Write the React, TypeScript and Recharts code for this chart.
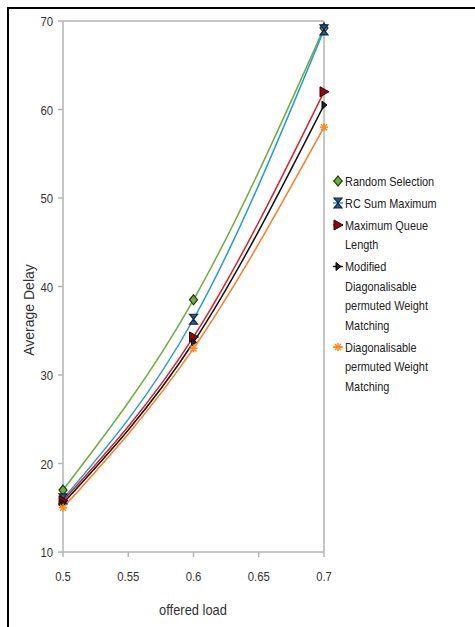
import React from 'react';
import { LineChart, Line, XAxis, YAxis, ReferenceLine } from 'recharts';

const loads = [0.5, 0.6, 0.7];
const randomSelection = [17, 38.5, 69.2];
const rcSumMaximum = [16, 36.3, 69];
const maxQueueLength = [15.8, 34.3, 62];
const modifiedDPWM = [15.5, 33.7, 60.5];
const diagPWM = [15, 33, 58];
const xTicks = [0.5, 0.55, 0.6, 0.65, 0.7];
const yTicks = [10, 20, 30, 40, 50, 60, 70];

const data = loads.map((x, i) => ({
  x,
  rs: randomSelection[i],
  rc: rcSumMaximum[i],
  mq: maxQueueLength[i],
  md: modifiedDPWM[i],
  dp: diagPWM[i],
}));

const FONT = '"Liberation Sans", Arial, sans-serif';
const SX = 0.84;

const Diamond = (p: any) => {
  const { cx, cy, fill, stroke } = p;
  if (cx == null || cy == null) return null;
  return <polygon points={`${cx},${cy - 5} ${cx + 4},${cy} ${cx},${cy + 5} ${cx - 4},${cy}`} fill={fill} stroke={stroke} strokeWidth={1.2} />;
};
const Bowtie = (p: any) => {
  const { cx, cy, fill } = p;
  if (cx == null || cy == null) return null;
  return <polygon points={`${cx - 4},${cy - 5} ${cx + 4},${cy - 5} ${cx},${cy} ${cx + 4},${cy + 5} ${cx - 4},${cy + 5} ${cx},${cy}`} fill={fill} stroke="#10243e" strokeWidth={1.2} />;
};
const TriRight = (p: any) => {
  const { cx, cy, fill } = p;
  if (cx == null || cy == null) return null;
  return <polygon points={`${cx - 4},${cy - 5} ${cx + 5},${cy} ${cx - 4},${cy + 5}`} fill={fill} stroke="#3a0000" strokeWidth={1} />;
};
const SmallArrow = (p: any) => {
  const { cx, cy } = p;
  if (cx == null || cy == null) return null;
  return <polygon points={`${cx - 2},${cy - 4} ${cx + 3},${cy} ${cx - 2},${cy + 4}`} fill="#222" stroke="#000" strokeWidth={1} />;
};
const Star = (p: any) => {
  const { cx, cy, stroke } = p;
  if (cx == null || cy == null) return null;
  return (
    <g stroke={stroke} strokeWidth={1.5}>
      <line x1={cx - 4} y1={cy} x2={cx + 4} y2={cy} />
      <line x1={cx} y1={cy - 4} x2={cx} y2={cy + 4} />
      <line x1={cx - 3} y1={cy - 3} x2={cx + 3} y2={cy + 3} />
      <line x1={cx - 3} y1={cy + 3} x2={cx + 3} y2={cy - 3} />
    </g>
  );
};

const series = [
  { key: 'rs', name: 'Random Selection', lines: ['Random Selection'], color: '#6fae3c', markFill: '#6fae3c', markStroke: '#1e3a10', Dot: Diamond },
  { key: 'rc', name: 'RC Sum Maximum', lines: ['RC Sum Maximum'], color: '#2a9ad8', markFill: '#2a5a8a', markStroke: '#10243e', Dot: Bowtie },
  { key: 'mq', name: 'Maximum Queue Length', lines: ['Maximum Queue', 'Length'], color: '#d8232a', markFill: '#8b0a10', markStroke: '#3a0000', Dot: TriRight },
  { key: 'md', name: 'Modified Diagonalisable permuted Weight Matching', lines: ['Modified', 'Diagonalisable', 'permuted Weight', 'Matching'], color: '#111111', markFill: '#222', markStroke: '#000', Dot: SmallArrow },
  { key: 'dp', name: 'Diagonalisable permuted Weight Matching', lines: ['Diagonalisable', 'permuted Weight', 'Matching'], color: '#ff7a2a', markFill: '#ff9a2a', markStroke: '#ff8a1a', Dot: Star },
];

const LegendBox = () => {
  const lineH = 19.5;
  let y = 0;
  const items: any[] = [];
  series.forEach((s) => {
    const top = y;
    const D = s.Dot;
    items.push(
      <g key={s.key}>
        <line x1={3} y1={top + 9} x2={13} y2={top + 9} stroke={s.color} strokeWidth={1.5} />
        <D cx={8} cy={top + 9} fill={s.markFill} stroke={s.markStroke} />
        {s.lines.map((t, j) => (
          <text key={j} transform={`translate(15 ${top + 13.5 + j * lineH}) scale(${SX} 1)`} fontSize={13} fontFamily={FONT} fill="#222">{t}</text>
        ))}
      </g>
    );
    y += s.lines.length * lineH + 2.5;
  });
  return (
    <svg width={140} height={230} style={{ position: 'absolute', left: 330, top: 172, overflow: 'visible' }}>
      {items}
    </svg>
  );
};

const XTick = (p: any) => {
  const { x, y, payload } = p;
  return (
    <text transform={`translate(${x} ${y + 18}) scale(${SX} 1)`} textAnchor="middle" fontSize={13.5} fontFamily={FONT} fill="#333">{String(payload.value)}</text>
  );
};
const YTick = (p: any) => {
  const { x, y, payload } = p;
  return (
    <text transform={`translate(${x} ${y + 5}) scale(${SX} 1)`} textAnchor="end" fontSize={13.5} fontFamily={FONT} fill="#333">{String(payload.value)}</text>
  );
};

export default function App() {
  return (
    <div style={{ position: 'absolute', left: 0, top: 0, width: 475, height: 627, background: '#fff', overflow: 'hidden' }}>
      <div style={{ position: 'absolute', left: 7, top: 7, width: 470, height: 622, borderTop: '2.5px solid #000', borderLeft: '2.5px solid #000', boxSizing: 'border-box' }} />
      <div style={{ position: 'absolute', left: 0, top: 0 }}>
        <LineChart width={475} height={627} data={data} margin={{ top: 21, right: 151, bottom: 0, left: 0 }}>
          <XAxis
            dataKey="x"
            type="number"
            domain={[0.5, 0.7]}
            ticks={xTicks}
            axisLine={{ stroke: '#b3b3b3', strokeWidth: 1.5 }}
            tickLine={{ stroke: '#b3b3b3', strokeWidth: 1.5 }}
            tickSize={5}
            tick={<XTick />}
            tickMargin={6}
            height={75}
          />
          <YAxis
            type="number"
            domain={[10, 70]}
            ticks={yTicks}
            width={63}
            axisLine={{ stroke: '#b3b3b3', strokeWidth: 1.5 }}
            tickLine={{ stroke: '#b3b3b3', strokeWidth: 1.5 }}
            tickSize={5}
            tick={<YTick />}
            tickMargin={5}
          />
          <ReferenceLine y={70} stroke="#b3b3b3" strokeWidth={1.5} />
          <ReferenceLine x={0.7} stroke="#b3b3b3" strokeWidth={1.5} />
          {series.map((s) => (
            <Line
              key={s.key}
              type="natural"
              dataKey={s.key}
              name={s.name}
              stroke={s.color}
              strokeWidth={1.5}
              isAnimationActive={false}
              dot={(props: any) => <s.Dot key={`${s.key}-${props.index}`} cx={props.cx} cy={props.cy} fill={s.markFill} stroke={s.markStroke} />}
              activeDot={false}
            />
          ))}
        </LineChart>
      </div>
      <svg width={475} height={627} style={{ position: 'absolute', left: 0, top: 0, pointerEvents: 'none' }}>
        <text transform="translate(34 310) rotate(-90)" textAnchor="middle" fontSize={14} fontFamily={FONT} fill="#333">Average Delay</text>
        <text transform="translate(193 615) scale(0.86 1)" textAnchor="middle" fontSize={15} fontFamily={FONT} fill="#333">offered load</text>
      </svg>
      <LegendBox />
    </div>
  );
}
